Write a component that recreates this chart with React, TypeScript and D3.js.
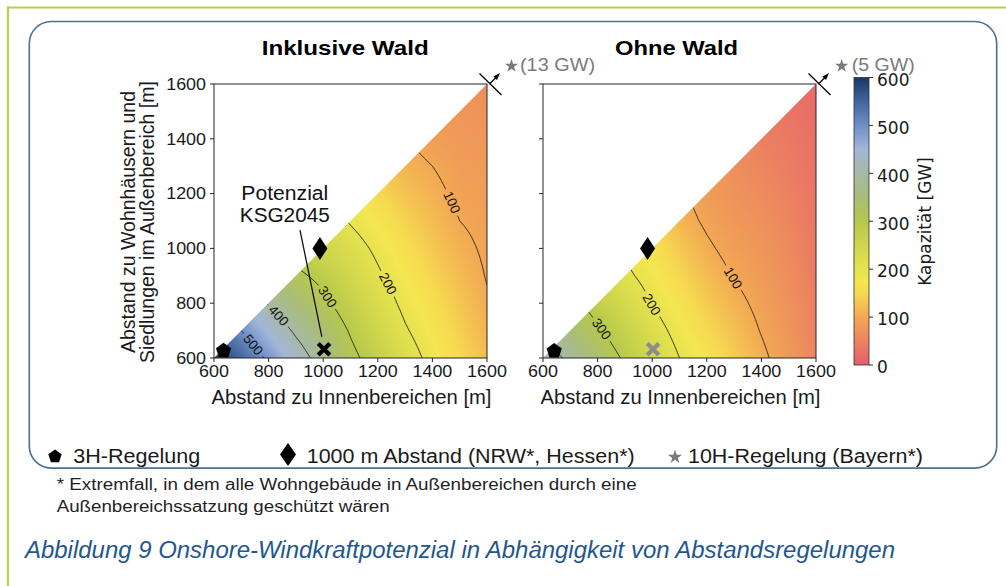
import React, { useMemo } from 'react';
import * as d3 from 'd3';

// ---------- data ----------
const gridStart = 600;
const gridStep = 100;
const xTicks = [600, 800, 1000, 1200, 1400, 1600];
const yTicks = [600, 800, 1000, 1200, 1400, 1600];
const cbTicks = [0, 100, 200, 300, 400, 500, 600];

// capacity [GW]; column per Innenbereich distance 600..1600, rows Außenbereich 600..x
const leftCols = [
  [598],
  [548, 500],
  [490, 443, 396],
  [430, 391, 351, 312],
  [373, 345, 313, 285, 250],
  [315, 295, 270, 245, 222, 196],
  [272, 249, 228, 207, 190, 170, 150],
  [225, 205, 188, 173, 159, 143, 127, 112],
  [185, 171, 158, 145, 133, 121, 110, 100, 88],
  [150, 140, 130, 120, 110, 100, 92, 86, 80, 75],
  [120, 111, 104, 98, 94, 90, 86, 81, 76, 71, 66],
];
const rightCols = [
  [430],
  [388, 348],
  [340, 308, 277],
  [292, 265, 237, 210],
  [245, 222, 198, 182, 165],
  [200, 183, 166, 149, 132, 115],
  [168, 151, 135, 120, 106, 94, 85],
  [137, 124, 111, 98, 87, 78, 71, 65],
  [108, 98, 90, 82, 75, 68, 60, 53, 45],
  [80, 74, 69, 63, 58, 52, 47, 41, 36, 30],
  [50, 47, 44, 40, 37, 34, 31, 28, 24, 21, 18],
];
const leftLevels = [100, 200, 300, 400, 500];
const rightLevels = [100, 200, 300, 400];

const cmapStops = [0, 50, 100, 150, 175, 200, 250, 300, 350, 400, 450, 500, 550, 600];
const cmapColors = ['#e65c6c', '#ec8460', '#f2a853', '#f6da50', '#f4e650', '#e6e24e', '#cfd64c',
  '#b6c84c', '#a9bd78', '#a6b9a6', '#a3b6d8', '#6f8fc6', '#41659e', '#173764'];

const leftMarkers = [
  { kind: '3H', x: 635, y: 630 },
  { kind: '1000m', x: 988, y: 1000 },
  { kind: 'KSG', x: 1003, y: 632 },
];
const rightMarkers = [
  { kind: '3H', x: 641, y: 629 },
  { kind: '1000m', x: 983, y: 1000 },
  { kind: 'KSG', x: 1003, y: 632 },
];
const titles = ['Inklusive Wald', 'Ohne Wald'];
const beyondLabels = ['(13 GW)', '(5 GW)'];
const legendLabels = ['3H-Regelung', '1000 m Abstand (NRW*, Hessen*)', '10H-Regelung (Bayern*)'];
const footnoteLines = [
  '* Extremfall, in dem alle Wohngebäude in Außenbereichen durch eine',
  'Außenbereichssatzung geschützt wären',
];
const captionText = 'Abbildung 9 Onshore-Windkraftpotenzial in Abhängigkeit von Abstandsregelungen';
const annotationLines = ['Potenzial', 'KSG2045'];

// ---------- helpers ----------
const FONT = "'Liberation Sans', Arial, Helvetica, sans-serif";
const DV = "'DejaVu Sans', sans-serif";
const SX = 1.12;

const cmap = d3.scaleLinear<string>().domain(cmapStops).range(cmapColors).interpolate(d3.interpolateRgb).clamp(true);

function makeField(cols: number[][]) {
  const n = cols.length;
  return (xv: number, yv: number) => {
    const y = Math.min(yv, xv);
    const u = (xv - gridStart) / gridStep;
    const v = (y - gridStart) / gridStep;
    const i = Math.max(0, Math.min(Math.floor(u), n - 2));
    let j = Math.max(0, Math.min(Math.floor(v), n - 2));
    const fu = Math.max(0, Math.min(1, u - i));
    let fv = Math.max(0, Math.min(1, v - j));
    if (j >= i) {
      j = i;
      fv = Math.min(fv, fu);
      const A = cols[i][i], B = cols[i + 1][i], C = cols[i + 1][i + 1];
      return A + fu * (B - A) + fv * (C - B);
    }
    const a = cols[i][j], b = cols[i + 1][j], c = cols[i][j + 1], d = cols[i + 1][j + 1];
    return a * (1 - fu) * (1 - fv) + b * fu * (1 - fv) + c * (1 - fu) * fv + d * fu * fv;
  };
}

function bisect(g: (t: number) => number, lo: number, hi: number) {
  let glo = g(lo);
  for (let k = 0; k < 40; k++) {
    const m = (lo + hi) / 2;
    const gm = g(m);
    if ((gm >= 0) === (glo >= 0)) { lo = m; glo = gm; } else hi = m;
  }
  return (lo + hi) / 2;
}

function trace(f: (x: number, y: number) => number, L: number) {
  const pts: [number, number][] = [];
  if (f(1600, 600) > L) {
    const ys = bisect((y) => f(1600, y) - L, 600, 1600);
    pts.push([1600, ys]);
  }
  const yEnd = bisect((t) => f(t, t) - L, 600, 1600);
  for (let y = 600; y < yEnd; y += 3) {
    if (f(1600, y) > L) continue;
    const x = bisect((xx) => f(xx, y) - L, y, 1600);
    pts.push([x, y]);
  }
  pts.push([yEnd, yEnd]);
  return pts;
}

function pentagon(r: number) {
  const p = d3.range(5).map((k) => {
    const a = (-90 + k * 72) * Math.PI / 180;
    return [r * Math.cos(a), r * Math.sin(a)];
  });
  return 'M' + p.map((q) => q.join(',')).join('L') + 'Z';
}
function diamond(w: number, h: number) {
  return `M0,${-h}L${w},0L0,${h}L${-w},0Z`;
}
const starPath = (r: number) => d3.symbol(d3.symbolStar, (r * r) / 0.8908130915292852)() as string;

function Marker({ kind, cx, cy, gray }: any) {
  if (kind === '3H') return <path d={pentagon(8)} transform={`translate(${cx},${cy + 1})`} fill="#000" />;
  if (kind === '1000m') return <path d={diamond(7.5, 11.5)} transform={`translate(${cx},${cy})`} fill="#000" />;
  const s = 5.8;
  const col = gray ? '#8c8c8c' : '#000';
  return (
    <g transform={`translate(${cx},${cy})`} stroke={col} strokeWidth={4.2}>
      <line x1={-s} y1={-s} x2={s} y2={s} />
      <line x1={-s} y1={s} x2={s} y2={-s} />
    </g>
  );
}

const TOP = 84, BOTTOM = 358;

function Panel({ id, cols, levels, labelAt, markers, x0, x1, title, titleX, titleW, beyond, starDx, textDx, textW, yLabels, grayX }: any) {
  const xs = d3.scaleLinear().domain([600, 1600]).range([x0, x1]);
  const ys = d3.scaleLinear().domain([600, 1600]).range([BOTTOM, TOP]);
  const f = useMemo(() => makeField(cols), [cols]);

  const href = useMemo(() => {
    const w = Math.round(x1 - x0), h = BOTTOM - TOP;
    const canvas = document.createElement('canvas');
    canvas.width = w; canvas.height = h;
    const ctx = canvas.getContext('2d')!;
    const img = ctx.createImageData(w, h);
    for (let py = 0; py < h; py++) {
      const dy = ys.invert(TOP + py + 0.5);
      for (let px = 0; px < w; px++) {
        const dx = xs.invert(x0 + px + 0.5);
        if (dy > dx + 6) continue;
        const c = d3.rgb(cmap(f(dx, Math.min(dy, dx))));
        const o = (py * w + px) * 4;
        img.data[o] = c.r; img.data[o + 1] = c.g; img.data[o + 2] = c.b; img.data[o + 3] = 255;
      }
    }
    ctx.putImageData(img, 0, 0);
    return canvas.toDataURL();
  }, [f]);

  const contours = useMemo(() => levels.map((L: number, k: number) => {
    const pts = trace(f, L).map(([a, b]) => [xs(a), ys(b)] as [number, number]);
    const d = d3.line().curve(d3.curveLinear)(pts) as string;
    const frac = labelAt[k];
    if (frac == null || pts.length < 3) return { L, d, label: null };
    const lens = [0];
    for (let i = 1; i < pts.length; i++) lens.push(lens[i - 1] + Math.hypot(pts[i][0] - pts[i - 1][0], pts[i][1] - pts[i - 1][1]));
    const target = frac * lens[lens.length - 1];
    let s = 0;
    while (s < pts.length - 2 && lens[s + 1] < target) s++;
    const t = (target - lens[s]) / Math.max(1e-6, lens[s + 1] - lens[s]);
    const lx = pts[s][0] + t * (pts[s + 1][0] - pts[s][0]);
    const ly = pts[s][1] + t * (pts[s + 1][1] - pts[s][1]);
    const pa = pts[Math.max(0, s - 4)], pb = pts[Math.min(pts.length - 1, s + 5)];
    let ang = Math.atan2(pb[1] - pa[1], pb[0] - pa[0]) * 180 / Math.PI;
    if (ang > 90) ang -= 180;
    if (ang < -90) ang += 180;
    return { L, d, label: { x: lx, y: ly, a: ang } };
  }), [f]);

  const tri = `M${xs(600)},${ys(600)}L${xs(1600)},${ys(600)}L${xs(1600)},${ys(1600)}Z`;
  const cx = xs(1600), cy = ys(1600);

  return (
    <g>
      <defs>
        <clipPath id={`tri-${id}`}><path d={tri} /></clipPath>
        <mask id={`mask-${id}`} maskUnits="userSpaceOnUse" x={0} y={0} width={1006} height={586}>
          <rect x={0} y={0} width={1006} height={586} fill="#fff" />
          {contours.filter((c: any) => c.label).map((c: any) => (
            <rect key={c.L} x={-14.5} y={-6} width={29} height={12} fill="#000"
              transform={`translate(${c.label.x},${c.label.y}) rotate(${c.label.a})`} />
          ))}
        </mask>
      </defs>
      <image href={href} x={x0} y={TOP} width={x1 - x0} height={BOTTOM - TOP} preserveAspectRatio="none" clipPath={`url(#tri-${id})`} />
      <g mask={`url(#mask-${id})`} clipPath={`url(#tri-${id})`}>
        {contours.map((c: any) => <path key={c.L} d={c.d} fill="none" stroke="#1c1c1c" strokeWidth={0.9} />)}
      </g>
      {contours.filter((c: any) => c.label).map((c: any) => (
        <text key={c.L} transform={`translate(${c.label.x},${c.label.y}) rotate(${c.label.a})`} textAnchor="middle"
          dominantBaseline="central" fontSize={13.5} fill="#111">{c.L}</text>
      ))}
      <rect x={x0} y={TOP} width={x1 - x0} height={BOTTOM - TOP} fill="none" stroke="#262626" strokeWidth={1} />
      {xTicks.map((t) => (
        <g key={'x' + t}>
          <line x1={xs(t)} x2={xs(t)} y1={BOTTOM} y2={BOTTOM + 4} stroke="#262626" />
          <text transform={`translate(${xs(t)},${376.5}) scale(${SX},1)`} textAnchor="middle" fontSize={16} fill="#1a1a1a">{t}</text>
        </g>
      ))}
      {yTicks.map((t) => (
        <g key={'y' + t}>
          <line x1={x0 - 4} x2={x0} y1={ys(t)} y2={ys(t)} stroke="#262626" />
          {yLabels && <text transform={`translate(${x0 - 8},${ys(t) + 5.7}) scale(${SX},1)`} textAnchor="end" fontSize={16} fill="#1a1a1a">{t}</text>}
        </g>
      ))}
      <text x={(x0 + x1) / 2 - 139} y={404} fontSize={19.5} textLength={280} lengthAdjust="spacingAndGlyphs" fill="#1a1a1a">Abstand zu Innenbereichen [m]</text>
      <text x={titleX} y={54.5} fontSize={19.5} fontWeight="bold" textLength={titleW} lengthAdjust="spacingAndGlyphs" fill="#000">{title}</text>
      {/* beyond-range indicator */}
      <line x1={cx - 7.5} y1={cy - 10.5} x2={cx + 14.5} y2={cy + 11} stroke="#000" strokeWidth={1.3} />
      <line x1={cx + 2.5} y1={cy} x2={cx + 10} y2={cy - 7.5} stroke="#000" strokeWidth={1.3} />
      <path d={`M${cx + 13},${cy - 11}L${cx + 6.4},${cy - 7.6}L${cx + 10},${cy - 4}Z`} fill="#000" />
      <path d={starPath(7)} transform={`translate(${cx + starDx},${cy - 18})`} fill="#7a7a7a" />
      <text x={cx + textDx} y={cy - 13.5} fontSize={17.5} textLength={textW} lengthAdjust="spacingAndGlyphs" fill="#7a7a7a">{beyond}</text>
      {markers.map((m: any, i: number) => (
        <Marker key={i} kind={m.kind} cx={xs(m.x)} cy={ys(m.y)} gray={grayX && m.kind === 'KSG'} />
      ))}
    </g>
  );
}

function Colorbar() {
  const y = d3.scaleLinear().domain([0, 600]).range([365, 77.5]);
  return (
    <g>
      <defs>
        <linearGradient id="cbgrad" x1="0" y1="1" x2="0" y2="0">
          {cmapStops.map((s, i) => <stop key={s} offset={s / 600} stopColor={cmapColors[i]} />)}
        </linearGradient>
      </defs>
      <rect x={854} y={y(600)} width={15} height={y(0) - y(600)} fill="url(#cbgrad)" stroke="#333" strokeWidth={0.8} />
      {cbTicks.map((t) => (
        <g key={t}>
          <line x1={869} x2={873} y1={y(t)} y2={y(t)} stroke="#333" />
          <text x={877} y={y(t) + 8.3} fontFamily={DV} fontSize={17} fill="#1a1a1a">{t}</text>
        </g>
      ))}
      <text transform="translate(931,221.5) rotate(-90)" textAnchor="middle" fontFamily={DV} fontSize={17} fill="#1a1a1a">Kapazität [GW]</text>
    </g>
  );
}

export default function App() {
  const leftX = d3.scaleLinear().domain([600, 1600]).range([214, 487]);
  const leftY = d3.scaleLinear().domain([600, 1600]).range([BOTTOM, TOP]);
  // annotation anchor (data coordinates of left panel)
  const annText = { x: 700, y: 1177 };
  const annFrom = { x: 915, y: 1067 };
  const annTo = { x: 995, y: 677 };
  return (
    <svg width={1006} height={586} style={{ position: 'absolute', left: 0, top: 0, background: '#fff' }} fontFamily={FONT}>
      <rect x={0} y={0} width={1006} height={586} fill="#fff" />
      <line x1={7} y1={7.5} x2={1006} y2={7.5} stroke="#b8cf48" strokeWidth={2.2} />
      <line x1={8} y1={6.4} x2={8} y2={586} stroke="#b8cf48" strokeWidth={2.2} />
      <rect x={29.3} y={21.5} width={967.4} height={446.6} rx={22} fill="none" stroke="#4f6f8e" strokeWidth={1.6} />

      <Panel id="l" cols={leftCols} levels={leftLevels} labelAt={[0.6, 0.53, 0.65, 0.77, 0.48]} markers={leftMarkers}
        x0={214} x1={487} title={titles[0]} titleX={261.7} titleW={167} beyond={beyondLabels[0]} starDx={24.5} textDx={33} textW={75}
        yLabels={true} grayX={false} />
      <Panel id="r" cols={rightCols} levels={rightLevels} labelAt={[0.52, 0.6, 0.62, null]} markers={rightMarkers}
        x0={543} x1={816} title={titles[1]} titleX={615} titleW={123} beyond={beyondLabels[1]} starDx={25.7} textDx={35.7} textW={63}
        yLabels={false} grayX={true} />

      {/* annotation */}
      <text x={leftX(annText.x)} y={leftY(annText.y)} fontSize={20} textLength={87} lengthAdjust="spacingAndGlyphs" fill="#111">{annotationLines[0]}</text>
      <text x={leftX(annText.x) - 1.5} y={leftY(annText.y) + 21.7} fontSize={20} textLength={90} lengthAdjust="spacingAndGlyphs" fill="#111">{annotationLines[1]}</text>
      <line x1={leftX(annFrom.x)} y1={leftY(annFrom.y)} x2={leftX(annTo.x)} y2={leftY(annTo.y)} stroke="#111" strokeWidth={1.3} />

      {/* y axis label */}
      <text transform="translate(134.5,222) rotate(-90)" textAnchor="middle" fontSize={19.5} fill="#1a1a1a">Abstand zu Wohnhäusern und</text>
      <text transform="translate(154,222) rotate(-90)" textAnchor="middle" fontSize={19.5} fill="#1a1a1a">Siedlungen im Außenbereich [m]</text>

      <Colorbar />

      {/* legend */}
      <path d={pentagon(7)} transform="translate(55,456.5)" fill="#000" />
      <text x={73.3} y={462.7} fontSize={19.5} textLength={127} lengthAdjust="spacingAndGlyphs" fill="#1a1a1a">{legendLabels[0]}</text>
      <path d={diamond(8, 11.5)} transform="translate(288,454.5)" fill="#000" />
      <text x={306.7} y={462.7} fontSize={19.5} textLength={328} lengthAdjust="spacingAndGlyphs" fill="#1a1a1a">{legendLabels[1]}</text>
      <path d={starPath(7.5)} transform="translate(675,457)" fill="#7a7a7a" />
      <text x={688} y={462.7} fontSize={19.5} textLength={235} lengthAdjust="spacingAndGlyphs" fill="#1a1a1a">{legendLabels[2]}</text>

      {/* footnote */}
      <text x={56.7} y={490} fontSize={16} textLength={580} lengthAdjust="spacingAndGlyphs" fill="#1f1f1f">{footnoteLines[0]}</text>
      <text x={56.7} y={512} fontSize={16} textLength={333} lengthAdjust="spacingAndGlyphs" fill="#1f1f1f">{footnoteLines[1]}</text>

      {/* caption */}
      <text x={25} y={557.7} fontSize={23} fontStyle="italic" textLength={870} lengthAdjust="spacingAndGlyphs" fill="#1e5790">{captionText}</text>
    </svg>
  );
}
